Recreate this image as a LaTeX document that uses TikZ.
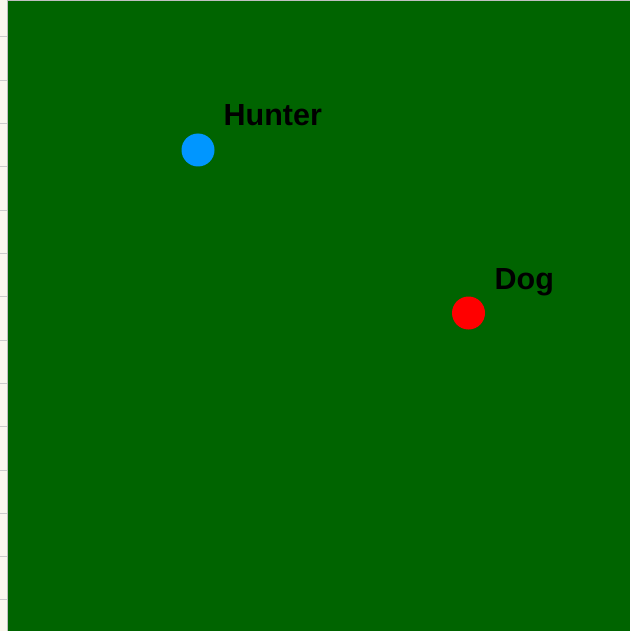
\documentclass[tikz,border=0pt]{standalone}
\usepackage{fontspec}
\setmainfont{Liberation Sans}
\usetikzlibrary{positioning}
\definecolor{field}{RGB}{0,100,0}
\definecolor{huntblue}{RGB}{0,150,255}
\definecolor{dogred}{RGB}{255,0,0}
\definecolor{paper}{RGB}{250,247,238}

\begin{document}
\begin{tikzpicture}[x=1pt,y=-1pt,
  marker/.style={circle,minimum size=33pt,inner sep=0pt},
  tag/.style={font=\fontsize{30.5}{36}\selectfont\bfseries,anchor=base west,inner sep=0pt}]
\useasboundingbox (0,0) rectangle (630,631);
% ruler strip on the left
\fill[paper] (0,0) rectangle (7.5,631);
\foreach \i in {0,...,13}
  \draw[gray!40,line width=1pt] (0,37+43.3*\i) -- (7.5,37+43.3*\i);
% the field
\fill[field] (7.5,1) rectangle (630,631);
\draw[gray!50,line width=0.8pt] (7.5,631) -- (7.5,0.5) -- (630,0.5);
% players
\node[marker,fill=huntblue] (hunter) at (198,150) {};
\node[marker,fill=dogred] (dog) at (468.5,313) {};
\node[tag] (hunterlabel) at (223.5,125.5) {Hunter};
\node[tag] (doglabel) at (494.5,289.5) {Dog};
\end{tikzpicture}
\end{document}
